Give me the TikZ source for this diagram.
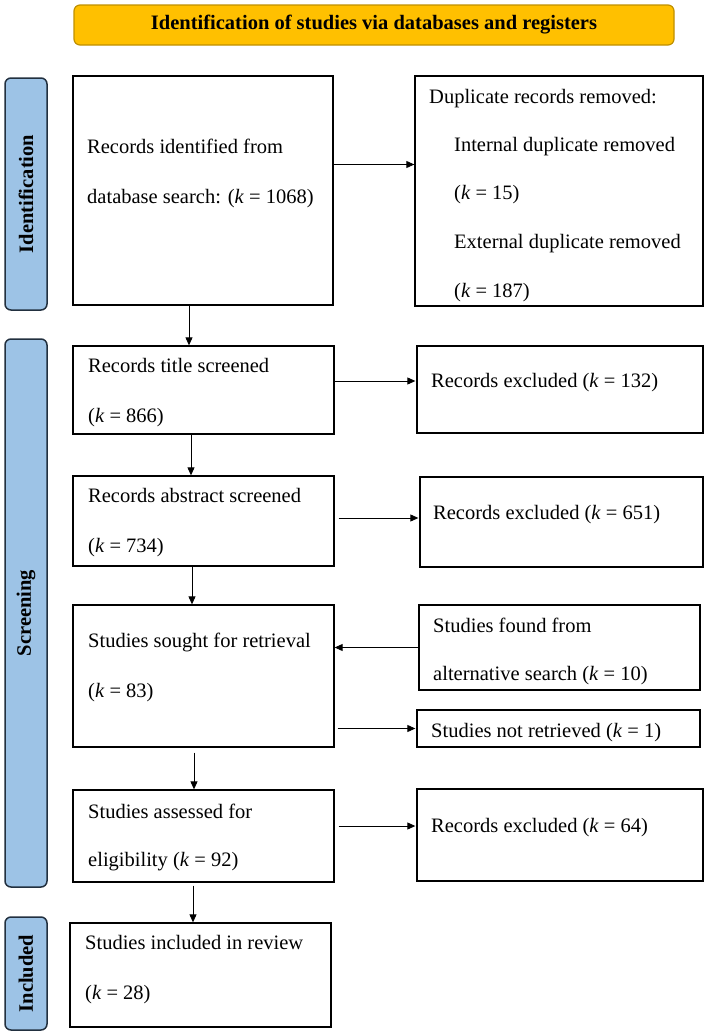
\documentclass[tikz,border=0pt]{standalone}
\usepackage{fontspec}
\setmainfont{Liberation Serif}
\usetikzlibrary{arrows.meta,fit}
\definecolor{titlefill}{HTML}{FFC000}
\definecolor{titledraw}{HTML}{BF9000}
\definecolor{sidefill}{HTML}{9DC3E6}
\definecolor{sidedraw}{HTML}{22303F}
\begin{document}
\begin{tikzpicture}[x=1pt,y=-1pt,
  box/.style={draw=black, line width=1.3pt, inner sep=0pt},
  side/.style={draw=sidedraw, fill=sidefill, line width=1.5pt, rounded corners=6pt, inner sep=0pt},
  txt/.style={anchor=base west, inner sep=0pt, font=\fontsize{20.5}{24}\selectfont},
  lab/.style={rotate=90, inner sep=0pt, font=\fontsize{20.5}{24}\selectfont\bfseries},
  arr/.style={-{Triangle[length=8pt,width=7pt]}, line width=0.9pt}]
\useasboundingbox (0,0) rectangle (706,1034);

% title
\node[draw=titledraw, fill=titlefill, line width=1.2pt, rounded corners=6pt, inner sep=0pt, fit={(74,5)(674,45)}] (title) {};
\node[inner sep=0pt, font=\fontsize{20.5}{24}\selectfont\bfseries] (titletext) at (title.center) {Identification of studies via databases and registers};

% side bars
\node[side, fit={(5,78)(47,310)}] (sI) {};
\node[lab] (sIl) at (sI.center) {Identification};
\node[side, fit={(5,339)(47,887)}] (sS) {};
\node[lab] (sSl) at (sS.center) {Screening};
\node[side, fit={(5,917)(47,1030)}] (sN) {};
\node[lab] (sNl) at (sN.center) {Included};

% left boxes
\node[box, fit={(73,76)(333,305)}] (b1) {};
\node[box, fit={(73,346)(334,434)}] (b2) {};
\node[box, fit={(73,476)(334,566)}] (b3) {};
\node[box, fit={(73,605)(334,747)}] (b4) {};
\node[box, fit={(73,790)(334,882)}] (b5) {};
\node[box, fit={(70,923)(331,1027)}] (b6) {};

% right boxes
\node[box, fit={(415,76)(703,306)}] (r1) {};
\node[box, fit={(417,346)(703,433)}] (r2) {};
\node[box, fit={(420,477)(703,567)}] (r3) {};
\node[box, fit={(419,605)(700,690)}] (r4) {};
\node[box, fit={(417,710)(700,747)}] (r5) {};
\node[box, fit={(417,789)(703,881)}] (r6) {};

% texts
\node[txt] (t1a) at (87,153) {Records identified from};
\node[txt] (t1b) at (87,203) {database search: (\textit{k} = 1068)};
\node[txt] (u1a) at (429,103) {Duplicate records removed:};
\node[txt] (u1b) at (454,151) {Internal duplicate removed};
\node[txt] (u1c) at (454,199) {(\textit{k} = 15)};
\node[txt] (u1d) at (454,248) {External duplicate removed};
\node[txt] (u1e) at (454,297) {(\textit{k} = 187)};
\node[txt] (t2a) at (88,372) {Records title screened};
\node[txt] (t2b) at (88,422) {(\textit{k} = 866)};
\node[txt] (u2) at (431,387) {Records excluded (\textit{k} = 132)};
\node[txt] (t3a) at (88,502) {Records abstract screened};
\node[txt] (t3b) at (88,552) {(\textit{k} = 734)};
\node[txt] (u3) at (433,519) {Records excluded (\textit{k} = 651)};
\node[txt] (t4a) at (88,647) {Studies sought for retrieval};
\node[txt] (t4b) at (88,697) {(\textit{k} = 83)};
\node[txt] (u4a) at (433,632) {Studies found from};
\node[txt] (u4b) at (433,680) {alternative search (\textit{k} = 10)};
\node[txt] (u5) at (431,737) {Studies not retrieved (\textit{k} = 1)};
\node[txt] (t5a) at (88,818) {Studies assessed for};
\node[txt] (t5b) at (88,866) {eligibility (\textit{k} = 92)};
\node[txt] (u6) at (431,832) {Records excluded (\textit{k} = 64)};
\node[txt] (t6a) at (85,949) {Studies included in review};
\node[txt] (t6b) at (85,999) {(\textit{k} = 28)};

% horizontal arrows
\draw[arr] ([yshift=26pt]b1.east) -- ([yshift=26pt]b1.east -| r1.west);
\draw[arr, shorten >=1pt] ([yshift=9pt]b2.east) -- ([yshift=9pt]b2.east -| r2.west);
\draw[arr, shorten <=4pt, shorten >=1pt] ([yshift=3pt]b3.east) -- ([yshift=3pt]b3.east -| r3.west);
\draw[arr] (r4.west) -- (r4.west -| b4.east);
\draw[arr, shorten <=3pt, shorten >=1pt] (r5.west -| b4.east) -- (r5.west);
\draw[arr, shorten <=4pt, shorten >=1pt] ([yshift=10pt]b5.east) -- ([yshift=10pt]b5.east -| r6.west);

% vertical arrows
\draw[arr] ([xshift=-14pt]b1.south) -- ([xshift=-14pt]b1.south |- b2.north);
\draw[arr] ([xshift=-12.5pt]b2.south) -- ([xshift=-12.5pt]b2.south |- b3.north);
\draw[arr] ([xshift=-11.5pt]b3.south) -- ([xshift=-11.5pt]b3.south |- b4.north);
\draw[arr, shorten <=5pt] ([xshift=-9.5pt]b4.south) -- ([xshift=-9.5pt]b4.south |- b5.north);
\draw[arr, shorten <=3pt] ([xshift=-10.5pt]b5.south) -- ([xshift=-10.5pt]b5.south |- b6.north);
\end{tikzpicture}
\end{document}
